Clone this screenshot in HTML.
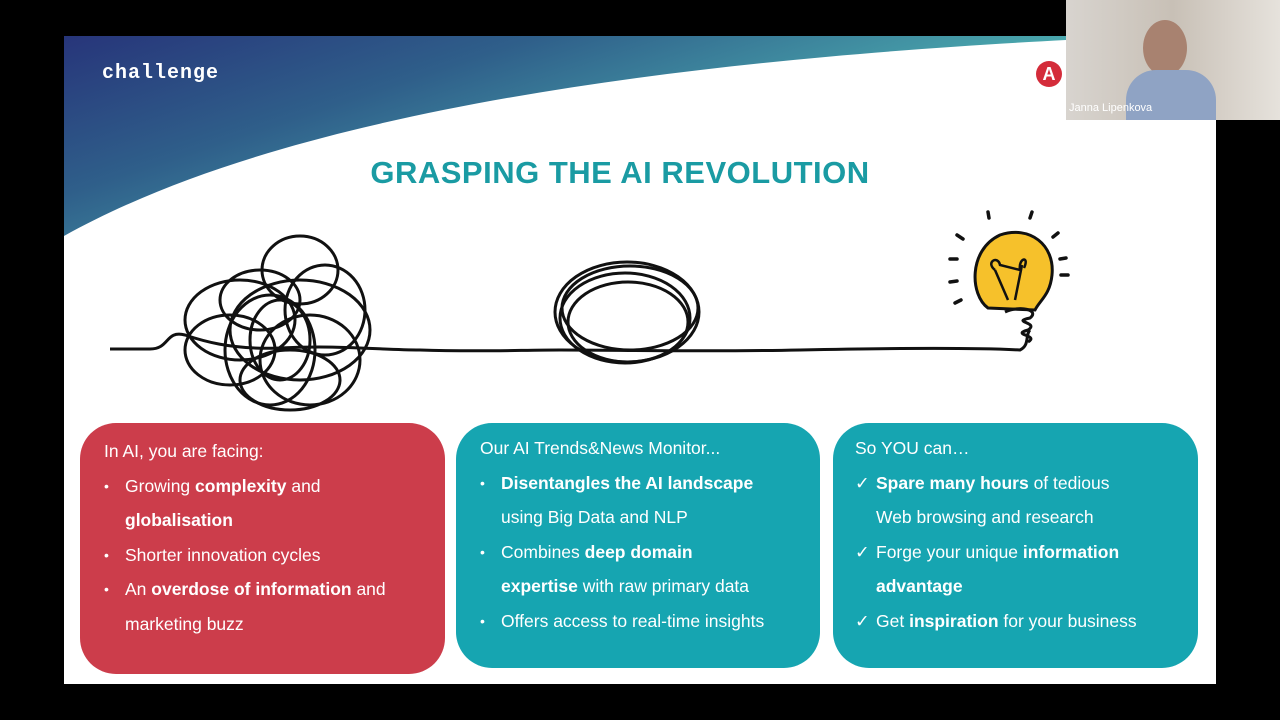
<!DOCTYPE html>
<html><head><meta charset="utf-8"><style>
body{margin:0;width:1280px;height:720px;background:#000;position:relative;overflow:hidden;font-family:"Liberation Sans",sans-serif}
.slide{position:absolute;left:64px;top:36px;width:1152px;height:648px;background:#fff;overflow:hidden}
.box{position:absolute;top:423px;border-radius:36px;color:#fff;font-size:17.5px;line-height:34.5px;box-sizing:border-box;padding:12px 0 0 24px;white-space:nowrap}
.box ul{margin:0;padding:0;list-style:none}
.box li{position:relative;padding-left:21px}
.r li:before,.t li:before{content:"•";position:absolute;left:0;font-size:14px}
.c li:before{content:"✓";position:absolute;left:0}
</style></head><body>
<div class="slide">
<svg width="1152" height="648" style="position:absolute;left:0;top:0">
<defs><linearGradient id="g" x1="0" y1="0" x2="1" y2="0.6">
<stop offset="0" stop-color="#27357a"/><stop offset="0.35" stop-color="#2f5f8a"/><stop offset="0.75" stop-color="#4aa9ae"/><stop offset="1" stop-color="#5cc7bd"/></linearGradient></defs>
<path d="M0,0 H1002 V4 C700,20 250,60 0,200 Z" fill="url(#g)"/>
</svg>
</div>
<div style="position:absolute;left:102px;top:62px;color:#fff;font-family:'Liberation Mono',monospace;font-weight:bold;font-size:20px;letter-spacing:1px">challenge</div>
<div style="position:absolute;left:1036px;top:61px;width:26px;height:26px;border-radius:50%;background:#d42c3a;color:#fff;font-weight:bold;font-size:18px;text-align:center;line-height:26px">A</div>
<div style="position:absolute;left:0;width:1240px;top:155px;text-align:center;color:#1a9ba3;font-weight:bold;font-size:31px;letter-spacing:0.5px">GRASPING THE AI REVOLUTION</div>
<svg width="1280" height="720" style="position:absolute;left:0;top:0" fill="none" stroke="#111" stroke-width="3">
<path d="M110,349 H150 C170,349 165,330 185,335 C200,340 230,350 280,348 C340,345 380,350 420,350 C480,352 520,350 560,350 C620,350 700,352 800,350 C900,348 980,348 1020,350 C1030,345 1025,335 1030,330"/>
<ellipse cx="300" cy="270" rx="38" ry="34"/>
<ellipse cx="240" cy="320" rx="55" ry="40"/>
<ellipse cx="300" cy="330" rx="70" ry="50"/>
<ellipse cx="270" cy="350" rx="45" ry="55"/>
<ellipse cx="310" cy="360" rx="50" ry="45"/>
<ellipse cx="260" cy="300" rx="40" ry="30"/>
<ellipse cx="280" cy="340" rx="30" ry="40"/>
<ellipse cx="230" cy="350" rx="45" ry="35"/>
<ellipse cx="325" cy="310" rx="40" ry="45"/>
<ellipse cx="290" cy="380" rx="50" ry="30"/>
<ellipse cx="627" cy="312" rx="72" ry="50"/>
<ellipse cx="625" cy="318" rx="65" ry="45"/>
<ellipse cx="630" cy="308" rx="68" ry="42"/>
<ellipse cx="628" cy="322" rx="60" ry="40"/>
<path d="M988,308 C970,295 968,250 1000,235 C1030,225 1055,245 1052,275 C1050,295 1040,300 1035,310 Z" fill="#f6c12b"/>
<path d="M1008,300 L995,270 M1015,300 L1022,265 M995,270 C985,262 998,255 1000,265 L1020,270 C1018,258 1030,255 1024,268" stroke-width="2.5"/>
<path d="M1005,312 C1020,305 1040,310 1030,318 C1010,322 1040,322 1028,330 C1010,335 1040,335 1028,342" stroke-width="3"/>
<g stroke-width="3.5" stroke-linecap="round">
<path d="M988,212 L989,218 M1032,212 L1030,218 M957,235 L963,239 M1053,237 L1058,233 M950,259 L957,259 M1060,259 L1066,258 M950,282 L957,281 M1061,275 L1068,275 M955,303 L961,300"/></g>
</svg>
<div class="box r" style="left:80px;width:365px;height:251px;background:#cc3d4b;padding-top:11px">In AI, you are facing:<ul>
<li>Growing <b>complexity</b> and<br><b>globalisation</b></li>
<li>Shorter innovation cycles</li>
<li>An <b>overdose of information</b> and<br>marketing buzz</li></ul></div>
<div class="box t" style="left:456px;width:364px;height:245px;background:#16a5b1;padding-top:8px">Our AI Trends&amp;News Monitor...<ul>
<li><b>Disentangles the AI landscape</b><br>using Big Data and NLP</li>
<li>Combines <b>deep domain</b><br><b>expertise</b> with raw primary data</li>
<li>Offers access to real-time insights</li></ul></div>
<div class="box c" style="left:833px;width:365px;height:245px;background:#16a5b1;padding-left:22px;padding-top:8px">So YOU can…<ul>
<li><b>Spare many hours</b> of tedious<br>Web browsing and research</li>
<li>Forge your unique <b>information</b><br><b>advantage</b></li>
<li>Get <b>inspiration</b> for your business</li></ul></div>
<div style="position:absolute;left:1066px;top:0;width:214px;height:120px;background:linear-gradient(90deg,#d8d4cf,#c8c0b6 50%,#e6e2dc)">
<div style="position:absolute;left:77px;top:20px;width:44px;height:56px;border-radius:50%;background:#a88270"></div>
<div style="position:absolute;left:60px;top:70px;width:90px;height:50px;background:#8fa3c4;border-radius:30px 30px 0 0"></div>
<div style="position:absolute;left:3px;top:102px;color:#fff;font-size:11px">Janna Lipenkova</div></div>
</body></html>
